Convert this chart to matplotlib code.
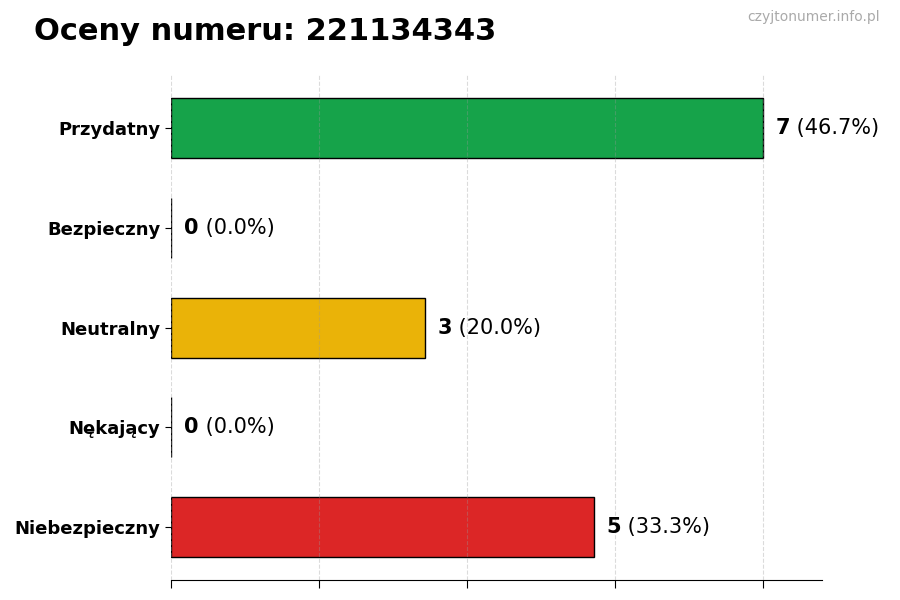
import matplotlib.pyplot as plt
import numpy as np

# Dane
categories = ['Przydatny', 'Bezpieczny', 'Neutralny', 'Nękający', 'Niebezpieczny']
counts = [7, 0, 3, 0, 5]
colors = ['#16a34a', '#16a34a', '#eab308', '#dc2626', '#dc2626']
number = '221134343'

total = sum(counts)
max_val = max(counts)

fig = plt.figure(figsize=(9, 6), dpi=100)
ax = fig.add_axes([0.19, 0.033, 0.723, 0.842])

y = np.arange(len(categories))
ax.barh(y, counts, height=0.6, color=colors, edgecolor='black', linewidth=1, zorder=2)
ax.invert_yaxis()

ax.set_yticks(y)
ax.set_yticklabels(categories, fontsize=13, fontweight='bold')
ax.set_xlim(0, max_val * 1.1)
ax.set_xticks(np.linspace(0, max_val, 5))
ax.set_xticklabels([])
ax.tick_params(axis='x', length=6)
ax.tick_params(axis='y', length=4)

# siatka nad słupkami, półprzezroczysta
ax.set_axisbelow(False)
ax.grid(axis='x', linestyle='--', color='#999999', linewidth=0.8, alpha=0.35, zorder=2.5)
for s in ['top', 'right', 'left']:
    ax.spines[s].set_visible(False)

# Etykiety wartości
offset = max_val * 0.022
for i, c in enumerate(counts):
    pct = c / total * 100 if total else 0
    t = ax.text(c + offset, i, f'{c}', fontsize=15, fontweight='bold', va='center', ha='left', zorder=3)
    ax.annotate(f' ({pct:.1f}%)', xy=(1, 0.5), xycoords=t, va='center', ha='left', fontsize=15, zorder=3)

fig.text(0.038, 0.948, f'Oceny numeru: {number}', fontsize=22, fontweight='bold', ha='left', va='center')
fig.text(0.978, 0.972, 'czyjtonumer.info.pl', fontsize=10, color='#aaaaaa', ha='right', va='center')

plt.savefig('out.png', dpi=100)
